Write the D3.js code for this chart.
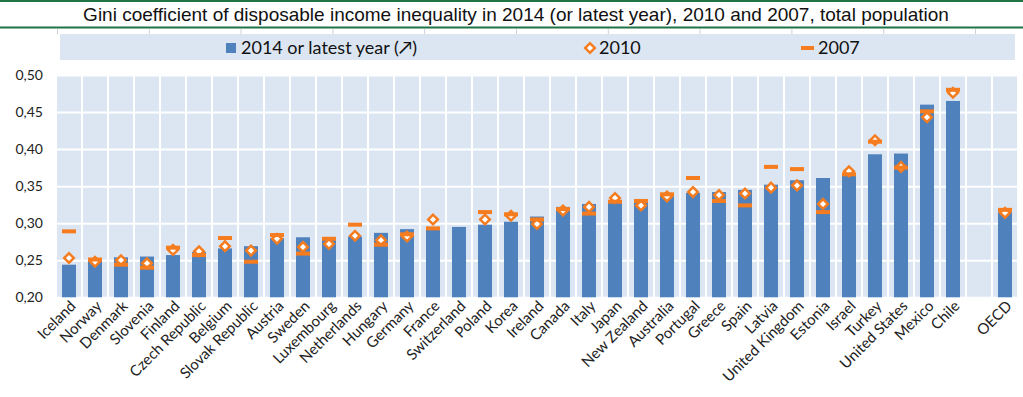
<!doctype html>
<html>
<head>
<meta charset="utf-8">
<title>Gini coefficient</title>
<script src="https://d3js.org/d3.v7.min.js"></script>
<style>
  body { margin: 0; background: #fff; }
  text { font-family: Lato, "Open Sans", sans-serif; }
</style>
</head>
<body>
<script>
// data
var countries = ["Iceland", "Norway", "Denmark", "Slovenia", "Finland", "Czech Republic", "Belgium",
  "Slovak Republic", "Austria", "Sweden", "Luxembourg", "Netherlands", "Hungary", "Germany", "France",
  "Switzerland", "Poland", "Korea", "Ireland", "Canada", "Italy", "Japan", "New Zealand", "Australia",
  "Portugal", "Greece", "Spain", "Latvia", "United Kingdom", "Estonia", "Israel", "Turkey",
  "United States", "Mexico", "Chile", "OECD"];

var gini2014 = [0.244, 0.252, 0.254, 0.255, 0.257, 0.261, 0.266, 0.269, 0.280, 0.281, 0.281, 0.282,
  0.287, 0.292, 0.295, 0.295, 0.298, 0.302, 0.309, 0.322, 0.326, 0.330, 0.331, 0.337, 0.341, 0.342,
  0.345, 0.352, 0.358, 0.361, 0.364, 0.393, 0.394, 0.460, 0.465, 0.315];

var gini2010 = [0.253, 0.248, 0.250, 0.246, 0.264, 0.262, 0.269, 0.263, 0.279, 0.268, 0.272, 0.283,
  0.277, 0.282, 0.305, null, 0.305, 0.310, 0.299, 0.317, 0.322, 0.334, 0.324, 0.336, 0.342, 0.338,
  0.340, 0.348, 0.351, 0.326, 0.370, 0.412, 0.376, 0.443, 0.476, 0.314];

var gini2007 = [0.289, 0.251, 0.244, 0.240, 0.267, 0.257, 0.280, 0.248, 0.284, 0.259, 0.279, 0.298,
  0.271, 0.285, 0.293, null, 0.315, 0.312, 0.305, 0.319, 0.313, 0.329, 0.330, 0.339, 0.361, 0.330,
  0.324, 0.376, 0.373, 0.315, 0.366, 0.410, 0.375, 0.451, 0.480, 0.318];

var yTicks = [0.20, 0.25, 0.30, 0.35, 0.40, 0.45, 0.50];

var title = "Gini coefficient of disposable income inequality in 2014 (or latest year), 2010 and 2007, total population";
var legendLabels = ["2014 or latest year (\u2197)", "2010", "2007"];

var width = 1023, height = 397;
var barColor = "#4f81bd", orange = "#f57c1f", bg = "#dce6f2", green = "#217346";

var svg = d3.select("body").append("svg")
  .attr("width", width)
  .attr("height", height);

svg.append("rect").attr("width", width).attr("height", height).attr("fill", "#fff");

// header lines + title
svg.append("line").attr("x1", 0).attr("x2", width).attr("y1", 1).attr("y2", 1)
  .attr("stroke", green).attr("stroke-width", 2);
svg.append("line").attr("x1", 0).attr("x2", width).attr("y1", 27.5).attr("y2", 27.5)
  .attr("stroke", green).attr("stroke-width", 2);
svg.append("text")
  .attr("x", 516).attr("y", 21)
  .attr("text-anchor", "middle")
  .style("font-family", "'Liberation Sans', Arial, sans-serif")
  .style("font-size", "19px")
  .attr("fill", "#111")
  .text(title);

// faint sheet cell marks above legend
svg.selectAll(".cell")
  .data(d3.range(11))
  .enter().append("line")
  .attr("x1", function(i) { return 57.5 + i * 91.8; })
  .attr("x2", function(i) { return 57.5 + i * 91.8; })
  .attr("y1", 29).attr("y2", 34)
  .attr("stroke", "#d0d0d0");

// square diamond marker
var diamond = d3.symbol(d3.symbolSquare, 46)();

// legend band
svg.append("rect").attr("x", 60).attr("y", 34).attr("width", 955).attr("height", 26).attr("fill", bg);
var legend = svg.append("g");
legend.append("rect").attr("x", 226).attr("y", 43).attr("width", 10).attr("height", 10).attr("fill", barColor);
legend.append("path")
  .attr("d", diamond)
  .attr("transform", "translate(590,48) rotate(45)")
  .attr("fill", "#fff").attr("stroke", orange).attr("stroke-width", 2.5);
legend.append("rect").attr("x", 801).attr("y", 46).attr("width", 13).attr("height", 4).attr("fill", orange);
legend.selectAll("text")
  .data(legendLabels)
  .enter().append("text")
  .attr("x", function(d, i) { return [241, 599, 818][i]; })
  .attr("y", 54)
  .style("font-size", "18px")
  .attr("fill", "#111")
  .text(function(d) { return d; });

// plot
var plotLeft = 56, plotRight = 1018, plotTop = 75, plotBottom = 297.3;
var domain = countries.slice(0, countries.length - 1).concat(["gap", "OECD"]);

var x = d3.scaleBand().domain(domain).range([plotLeft, plotRight]);
var y = d3.scaleLinear().domain([0.20, 0.50]).range([plotBottom, plotTop]);

svg.append("rect")
  .attr("x", plotLeft).attr("y", plotTop)
  .attr("width", plotRight - plotLeft).attr("height", plotBottom - plotTop)
  .attr("fill", bg);

// vertical white grid at category boundaries
svg.selectAll(".vgrid")
  .data(d3.range(domain.length + 1))
  .enter().append("line")
  .attr("x1", function(i) { return plotLeft + i * x.step(); })
  .attr("x2", function(i) { return plotLeft + i * x.step(); })
  .attr("y1", plotTop).attr("y2", plotBottom)
  .attr("stroke", "#fff").attr("stroke-width", 2);

var yAxis = d3.axisLeft(y)
  .tickValues(yTicks)
  .tickSize(-(plotRight - plotLeft))
  .tickPadding(13)
  .tickFormat(function(d) { return d3.format(".2f")(d).replace(".", ","); });

var yg = svg.append("g").attr("transform", "translate(" + plotLeft + ",0)").call(yAxis);
yg.select(".domain").remove();
yg.selectAll(".tick line").attr("stroke", "#fff").attr("stroke-width", 2);
yg.selectAll(".tick text")
  .style("font-family", "Lato, sans-serif")
  .style("font-size", "14px")
  .attr("fill", "#222");

var barW = 14;
function cx(d) { return x(d) + x.bandwidth() / 2; }

svg.selectAll(".bar")
  .data(countries)
  .enter().append("rect")
  .attr("x", function(d) { return cx(d) - barW / 2; })
  .attr("y", function(d, i) { return y(gini2014[i]); })
  .attr("width", barW)
  .attr("height", function(d, i) { return plotBottom - y(gini2014[i]); })
  .attr("fill", barColor);

svg.selectAll(".m2010")
  .data(countries.filter(function(d, i) { return gini2010[i] != null; }))
  .enter().append("path")
  .attr("d", diamond)
  .attr("transform", function(d) {
    return "translate(" + cx(d) + "," + y(gini2010[countries.indexOf(d)]) + ") rotate(45)";
  })
  .attr("fill", "#fff").attr("stroke", orange).attr("stroke-width", 2.5);

svg.selectAll(".m2007")
  .data(countries.filter(function(d, i) { return gini2007[i] != null; }))
  .enter().append("rect")
  .attr("x", function(d) { return cx(d) - 7; })
  .attr("y", function(d) { return y(gini2007[countries.indexOf(d)]) - 2; })
  .attr("width", 14).attr("height", 4)
  .attr("fill", orange);

// x labels
var xAxis = d3.axisBottom(x)
  .tickSize(0)
  .tickFormat(function(d) { return d === "gap" ? "" : d; });

var xg = svg.append("g").attr("transform", "translate(0," + plotBottom + ")").call(xAxis);
xg.select(".domain").remove();
xg.selectAll(".tick text")
  .style("font-family", "Lato, sans-serif")
  .style("font-size", "15px")
  .attr("fill", "#222")
  .attr("text-anchor", "end")
  .attr("x", 0).attr("dx", 0).attr("y", 0).attr("dy", "0.35em")
  .attr("transform", "translate(4,6) rotate(-45)");
</script>
</body>
</html>
